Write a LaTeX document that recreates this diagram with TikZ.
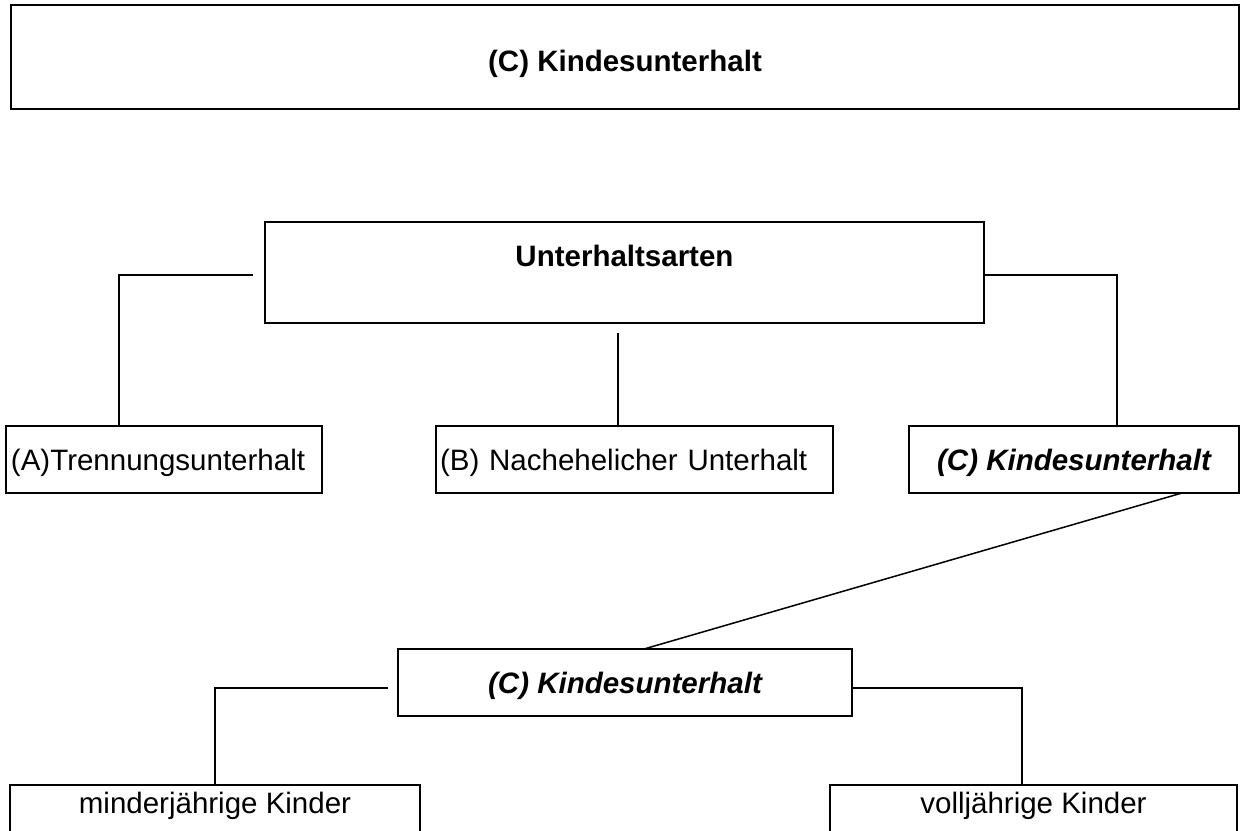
\documentclass[tikz,border=0pt]{standalone}
\usepackage{fontspec}
\setmainfont{Liberation Sans}
\usetikzlibrary{calc}
\begin{document}
\begin{tikzpicture}[x=1bp,y=-1bp,
  box/.style={draw, line width=2.6bp, rectangle, inner sep=0pt, outer sep=0pt,
    font=\fontsize{29.5bp}{34bp}\selectfont},
  conn/.style={line width=1.5bp},
  bold/.style={font=\fontsize{29.5bp}{34bp}\selectfont\bfseries},
  bolditalic/.style={font=\fontsize{29.5bp}{34bp}\selectfont\bfseries\itshape},
  upper/.style={text height=21bp, text depth=0bp},
]
\useasboundingbox (0,0) rectangle (1241,831);
\clip (0,0) rectangle (1241,831);
\fill[white] (0,0) rectangle (1241,831);

% title
\node[box, bold, minimum width=1228bp, minimum height=104bp,
      text height=28bp, text depth=0bp] (title) at (625,57) {(C) Kindesunterhalt};

% Unterhaltsarten
\node[box, bold, minimum width=719bp, minimum height=101bp,
      text height=0bp, text depth=12bp] (arten) at (624.5,272.5) {Unterhaltsarten};

% second row
\node[box, upper, minimum width=316bp, minimum height=67bp,
      text width=306bp, align=left] (A) at (164,459.5) {(A)Trennungsunterhalt};
\node[box, upper, minimum width=397bp, minimum height=67bp,
      text width=389bp, align=left] (B) at (634.5,459.5) {(B) Nachehelicher Unterhalt};
\node[box, upper, bolditalic, minimum width=330bp, minimum height=67bp] (C) at (1074,459.5) {(C) Kindesunterhalt};

% third row
\node[box, upper, bolditalic, minimum width=454bp, minimum height=67bp] (C2) at (625,682.5) {(C) Kindesunterhalt};

% bottom row
\node[box, minimum width=410bp, minimum height=67bp,
      text height=0bp, text depth=11bp] (M) at (215,818.5) {minderjährige Kinder};
\node[box, minimum width=407bp, minimum height=67bp,
      text height=0bp, text depth=11bp] (V) at (1033.5,818.5) {volljährige Kinder};

% connectors
\draw[conn] ([xshift=-12bp,yshift=-2.5bp]arten.west) -| ([xshift=-45bp]A.north);
\draw[conn] ([yshift=-2.5bp]arten.east) -| ([xshift=43bp]C.north);
\coordinate (mtop) at ([xshift=-6.5bp,yshift=-10bp]arten.south);
\draw[conn] (mtop) -- (mtop |- B.north);
\draw[conn] ([xshift=108bp]C.south) -- ([xshift=19bp]C2.north);
\draw[conn] ([xshift=-10bp,yshift=-5.5bp]C2.west) -| (M.north);
\draw[conn] ([yshift=-5.5bp]C2.east) -| ([xshift=-11.5bp]V.north);
\end{tikzpicture}
\end{document}
